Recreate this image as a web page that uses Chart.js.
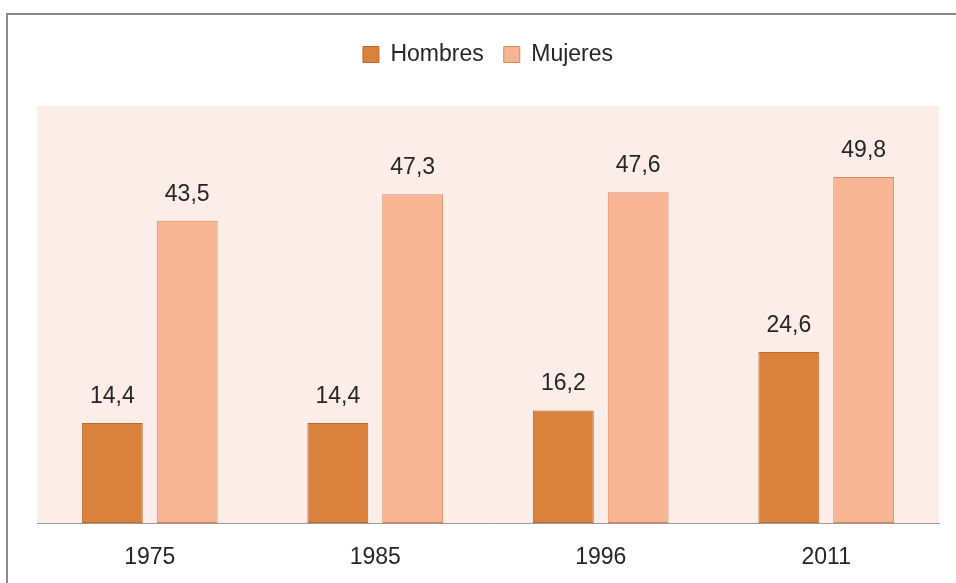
<!DOCTYPE html>
<html>
<head>
<meta charset="utf-8">
<script src="https://cdn.jsdelivr.net/npm/chart.js@4"></script>
<style>
    html, body { margin: 0; padding: 0; background: #ffffff; }
    #grafico_box { width: 956px; height: 583px; }
</style>
</head>
<body>
<div id="grafico_box"><canvas id="grafico"></canvas></div>
<script>
// datos
const anos = ['1975', '1985', '1996', '2011'];
const hombres = [14.4, 14.4, 16.2, 24.6];
const mujeres = [43.5, 47.3, 47.6, 49.8];
const y_max = 60;

const fuente = "'Liberation Sans', Arial, sans-serif";

// fondo blanco, marco gris y fondo rosado del area de trazado
const fondoPlugin = {
    id: 'fondo',
    beforeInit(chart) {
        // espacio extra debajo de la leyenda
        const fit = chart.legend.fit;
        chart.legend.fit = function () {
            fit.bind(chart.legend)();
            this.height += 30;
        };
    },
    beforeDraw(chart) {
        const ctx = chart.ctx;
        const a = chart.chartArea;
        ctx.save();
        ctx.fillStyle = '#ffffff';
        ctx.fillRect(0, 0, chart.width, chart.height);
        ctx.strokeStyle = '#8a8a8a';
        ctx.lineWidth = 2;
        ctx.strokeRect(7, 14, chart.width + 20, chart.height + 20);
        ctx.fillStyle = '#fcede8';
        ctx.fillRect(a.left, a.top, a.right - a.left, a.bottom - a.top);
        ctx.restore();
    }
};

// etiquetas de valor encima de cada barra
const etiquetasPlugin = {
    id: 'etiquetas',
    afterDatasetsDraw(chart) {
        const ctx = chart.ctx;
        ctx.save();
        ctx.font = '23px ' + fuente;
        ctx.fillStyle = '#262626';
        ctx.textAlign = 'center';
        ctx.textBaseline = 'alphabetic';
        chart.data.datasets.forEach((ds, i) => {
            chart.getDatasetMeta(i).data.forEach((bar, j) => {
                const txt = ds.data[j].toFixed(1).replace('.', ',');
                ctx.fillText(txt, bar.x, bar.y - 20);
            });
        });
        ctx.restore();
    }
};

const graficoBarra = new Chart(document.getElementById('grafico'), {
    type: 'bar',
    data: {
        labels: anos,
        datasets: [{
            label: 'Hombres',
            data: hombres,
            backgroundColor: '#d9823e',
            borderColor: '#c06a2a',
            borderWidth: 1,
            borderSkipped: false
        }, {
            label: 'Mujeres',
            data: mujeres,
            backgroundColor: '#f8b593',
            borderColor: '#d9875a',
            borderWidth: 1,
            borderSkipped: false
        }]
    },
    options: {
        responsive: true,
        maintainAspectRatio: false,
        animation: false,
        categoryPercentage: 0.664,
        barPercentage: 0.813,
        layout: {
            padding: { left: 37, right: 17, top: 23, bottom: 12 }
        },
        plugins: {
            legend: {
                position: 'top',
                labels: {
                    color: '#262626',
                    font: { family: fuente, size: 23 },
                    boxWidth: 16,
                    boxHeight: 16,
                    padding: 20
                }
            },
            tooltip: { enabled: false }
        },
        scales: {
            x: {
                grid: { display: false, drawTicks: false },
                border: { display: true, color: '#9a9a9a', width: 1 },
                ticks: {
                    color: '#262626',
                    font: { family: fuente, size: 23 },
                    padding: 21
                },
                afterFit(scale) {
                    scale.height = 48;
                }
            },
            y: {
                display: false,
                min: 0,
                max: y_max
            }
        }
    },
    plugins: [fondoPlugin, etiquetasPlugin]
});
</script>
</body>
</html>
